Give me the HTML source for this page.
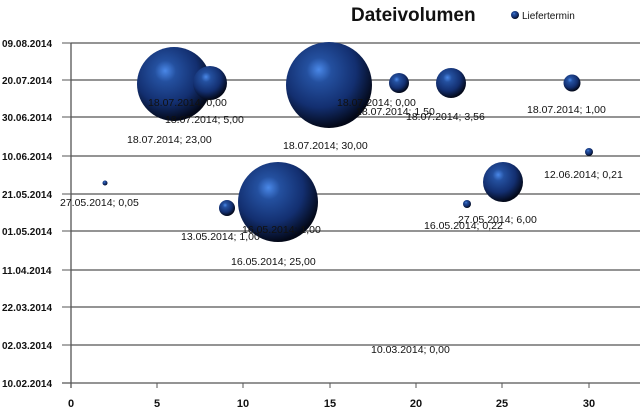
<!DOCTYPE html>
<html><head><meta charset="utf-8"><style>
html,body{margin:0;padding:0;background:#fff}
svg{display:block}
text{font-family:"Liberation Sans",sans-serif}
</style></head><body>
<svg width="640" height="412" viewBox="0 0 640 412" xmlns="http://www.w3.org/2000/svg">
<defs>
<radialGradient id="g" cx="0.4" cy="0.35" r="0.65" fx="0.38" fy="0.32">
<stop offset="0" stop-color="#4a88e8"/>
<stop offset="0.22" stop-color="#24509f"/>
<stop offset="0.65" stop-color="#132f70"/>
<stop offset="1" stop-color="#030818"/>
</radialGradient>
</defs>
<g stroke="#555" stroke-width="1.3">
<line x1="71" y1="43" x2="640" y2="43"/>
<line x1="71" y1="80" x2="640" y2="80"/>
<line x1="71" y1="117" x2="640" y2="117"/>
<line x1="71" y1="156" x2="640" y2="156"/>
<line x1="71" y1="194" x2="640" y2="194"/>
<line x1="71" y1="231" x2="640" y2="231"/>
<line x1="71" y1="270" x2="640" y2="270"/>
<line x1="71" y1="307" x2="640" y2="307"/>
<line x1="71" y1="345" x2="640" y2="345"/>
<line x1="62" y1="383" x2="640" y2="383"/>
<line x1="71" y1="43" x2="71" y2="388"/>
<g stroke-width="1">
<line x1="62" y1="43" x2="71" y2="43"/><line x1="62" y1="80" x2="71" y2="80"/><line x1="62" y1="117" x2="71" y2="117"/><line x1="62" y1="156" x2="71" y2="156"/><line x1="62" y1="194" x2="71" y2="194"/><line x1="62" y1="231" x2="71" y2="231"/><line x1="62" y1="270" x2="71" y2="270"/><line x1="62" y1="307" x2="71" y2="307"/><line x1="62" y1="345" x2="71" y2="345"/>
<line x1="157" y1="383" x2="157" y2="388"/><line x1="243" y1="383" x2="243" y2="388"/><line x1="330" y1="383" x2="330" y2="388"/><line x1="416" y1="383" x2="416" y2="388"/><line x1="502" y1="383" x2="502" y2="388"/><line x1="589" y1="383" x2="589" y2="388"/>
</g></g>
<g font-size="10" fill="#111" font-weight="bold">
<text x="2" y="47">09.08.2014</text><text x="2" y="84">20.07.2014</text><text x="2" y="121">30.06.2014</text><text x="2" y="160">10.06.2014</text><text x="2" y="198">21.05.2014</text><text x="2" y="235">01.05.2014</text><text x="2" y="274">11.04.2014</text><text x="2" y="311">22.03.2014</text><text x="2" y="349">02.03.2014</text><text x="2" y="387">10.02.2014</text>
</g>
<g font-size="11" fill="#111" font-weight="bold" text-anchor="middle">
<text x="71" y="407">0</text><text x="157" y="407">5</text><text x="243" y="407">10</text><text x="330" y="407">15</text><text x="416" y="407">20</text><text x="502" y="407">25</text><text x="589" y="407">30</text>
</g>
<text x="351" y="21" font-size="19" font-weight="bold" fill="#111">Dateivolumen</text>
<circle cx="515" cy="15" r="4" fill="url(#g)"/>
<text x="522" y="19" font-size="10" fill="#111">Liefertermin</text>
<g fill="url(#g)">
<circle cx="174" cy="84" r="37"/>
<circle cx="210" cy="83" r="17"/>
<circle cx="329" cy="85" r="43"/>
<circle cx="399" cy="83" r="10"/>
<circle cx="451" cy="83" r="15"/>
<circle cx="572" cy="83" r="8.5"/>
<circle cx="589" cy="152" r="4"/>
<circle cx="105" cy="183" r="2.5"/>
<circle cx="227" cy="208" r="8"/>
<circle cx="278" cy="202" r="40"/>
<circle cx="467" cy="204" r="4"/>
<circle cx="503" cy="182" r="20"/>
</g>
<g font-size="10.5" fill="#111">
<text x="148" y="106">18.07.2014; 0,00</text>
<text x="165" y="123">18.07.2014; 5,00</text>
<text x="127" y="143">18.07.2014; 23,00</text>
<text x="283" y="149">18.07.2014; 30,00</text>
<text x="337" y="106">18.07.2014; 0,00</text>
<text x="356" y="115">18.07.2014; 1,50</text>
<text x="406" y="120">18.07.2014; 3,56</text>
<text x="527" y="113">18.07.2014; 1,00</text>
<text x="544" y="178">12.06.2014; 0,21</text>
<text x="60" y="206">27.05.2014; 0,05</text>
<text x="458" y="223">27.05.2014; 6,00</text>
<text x="424" y="229">16.05.2014; 0,22</text>
<text x="242" y="233">16.05.2014; 1,00</text>
<text x="181" y="240">13.05.2014; 1,00</text>
<text x="231" y="265">16.05.2014; 25,00</text>
<text x="371" y="353">10.03.2014; 0,00</text>
</g>
</svg>
</body></html>
